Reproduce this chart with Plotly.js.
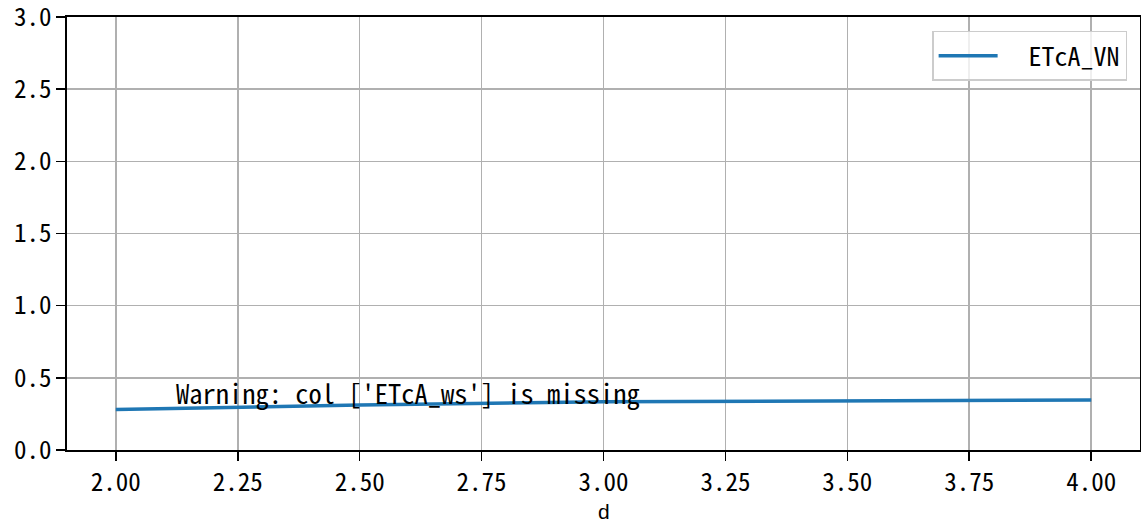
<!DOCTYPE html>
<html>
<head>
<meta charset="utf-8">
<script src="https://cdn.plot.ly/plotly-3.0.1.min.js"></script>
<style>html,body{margin:0;padding:0;background:#fff;}#chart{width:1141px;height:523px;}</style>
</head>
<body>
<div id="chart"></div>
<script>
// Data
const dValues = [2.0, 2.5, 3.0, 3.5, 4.0];
const etcaVN = [0.281, 0.311, 0.334, 0.342, 0.347];
const seriesName = 'ETcA_VN';
const xLabel = 'd';
const warningText = "Warning: col ['ETcA_ws'] is missing";

const FONT = '"Noto Sans Mono CJK SC", "Liberation Mono", "DejaVu Sans Mono", monospace';

const trace = {
  x: dValues,
  y: etcaVN,
  type: 'scatter',
  mode: 'lines',
  name: '\u00a0\u00a0' + seriesName,
  line: {color: '#1f77b4', width: 3.5}
};

const axisCommon = {
  showline: true,
  linecolor: '#000',
  linewidth: 1.6,
  mirror: true,
  ticks: 'outside',
  ticklen: 9,
  tickwidth: 1.6,
  tickcolor: '#000',
  showgrid: true,
  gridcolor: '#b0b0b0',
  gridwidth: 1.6,
  zeroline: false,
  automargin: false,
  ticklabeloverflow: 'allow',
  tickfont: {family: FONT, size: 25, color: '#000'}
};

const layout = {
  width: 1141,
  height: 523,
  margin: {l: 67, r: 1, t: 17, b: 73},
  paper_bgcolor: '#fff',
  plot_bgcolor: '#fff',
  font: {family: FONT, color: '#000'},
  xaxis: Object.assign({}, axisCommon, {
    range: [1.9, 4.1],
    tick0: 2,
    dtick: 0.25,
    tickformat: '.2f'
  }),
  yaxis: Object.assign({}, axisCommon, {
    range: [0, 3.0005],
    tick0: 0,
    dtick: 0.5,
    tickformat: '.1f'
  }),
  showlegend: true,
  legend: {
    x: 0.988, y: 0.968, xanchor: 'right', yanchor: 'top',
    bgcolor: 'rgba(255,255,255,0.8)',
    bordercolor: '#cccccc',
    borderwidth: 1.5,
    itemwidth: 59,
    font: {family: FONT, size: 26, color: '#000'}
  },
  annotations: [{
    xref: 'x domain', yref: 'y domain',
    x: 0.1, y: 0.1,
    xanchor: 'left', yanchor: 'bottom',
    yshift: -7,
    showarrow: false,
    text: warningText,
    font: {family: FONT, size: 26.5, color: '#000'}
  }, {
    xref: 'x domain', yref: 'y domain',
    x: 0.5, y: -0.1416,
    xanchor: 'center', yanchor: 'middle',
    showarrow: false,
    text: xLabel,
    font: {family: '"Liberation Sans", "DejaVu Sans", sans-serif', size: 21, color: '#000'}
  }]
};

Plotly.newPlot('chart', [trace], layout, {displayModeBar: false, staticPlot: true});
</script>
</body>
</html>
